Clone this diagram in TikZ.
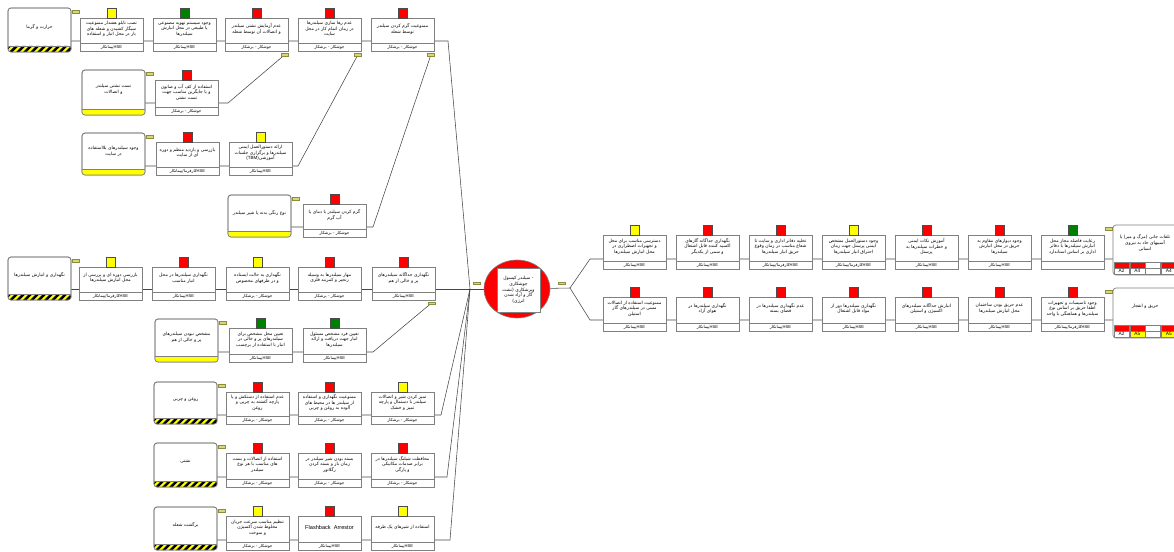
\documentclass[tikz,border=0pt]{standalone}
\usepackage{fontspec}
\setmainfont{Liberation Sans}
\newfontfamily\fafont[Script=Arabic]{DejaVu Sans}
\newfontfamily\lafont{Liberation Sans}
\TeXXeTstate=1
\usetikzlibrary{shapes.geometric,backgrounds,calc}

\definecolor{boxgray}{RGB}{128,128,128}
\definecolor{linegray}{RGB}{70,70,70}
\definecolor{tagfill}{RGB}{215,215,120}
\definecolor{tagline}{RGB}{140,140,60}
\definecolor{bred}{RGB}{255,0,0}
\definecolor{byellow}{RGB}{255,255,0}
\definecolor{bgreen}{RGB}{0,128,0}

\newcommand\fa[1]{\beginR #1\endR}
\newcommand\hse{\beginL{\lafont HSE}\endL}
\newcommand\fhse{\fa{\hse{}پیمانکار}}
\newcommand\fkhse{\fa{\hse{}کارفرما/پیمانکار}}
\newcommand\fjb{\fa{جوشکار - برشکار}}

\tikzset{
  bbox/.style={draw=boxgray, fill=white, line width=0.6pt, minimum width=63pt, inner sep=0pt, outer sep=0pt},
  bfoot/.style={draw=boxgray, line width=0.6pt, minimum width=63pt, minimum height=8pt, inner sep=0pt, outer sep=0pt,
    font=\fafont\fontsize{4.1}{4.5}\selectfont},
  btext/.style={align=center, inner sep=0pt, font=\fafont\fontsize{4.5}{5.6}\selectfont},
  ind/.style={draw=black!70, line width=0.3pt, minimum width=9pt, minimum height=10pt, inner sep=0pt, outer sep=0pt},
  tag/.style={draw=tagline, fill=tagfill, line width=0.4pt, minimum width=7pt, minimum height=2.6pt, inner sep=0pt},
  conn/.style={draw=linegray, line width=0.55pt},
  tbox/.style={draw=boxgray, fill=white, line width=0.7pt, rounded corners=3pt, minimum width=63pt, inner sep=0pt, outer sep=0pt},
  ttext/.style={align=center, inner sep=0pt, font=\fafont\fontsize{4.5}{5.8}\selectfont},
  cell/.style={draw=boxgray, line width=0.3pt, minimum width=15pt, minimum height=6pt, inner sep=0pt,
    font=\lafont\fontsize{4.8}{5}\selectfont},
}

% barrier: name, x left, y top, y bottom, colour, text, footer
\newcommand\barrier[7]{%
  \pgfmathsetmacro\bh{#4-#3}%
  \node[bbox, minimum height=\bh pt] (#1) at ({#2+31.5},{(#3+#4)/2}) {};
  \node[bfoot, anchor=south] (#1f) at (#1.south) {#7};
  \node[btext] (#1t) at ($(#1.north)!0.44!(#1f.north)$) {#6};
  \node[ind, fill=#5, anchor=south] (#1i) at (#1.north) {};
}

% threat: name, x left, y top, y bottom, number of stripes, text
\newcommand\threat[6]{%
  \pgfmathsetmacro\th{#4-#3}%
  \node[tbox, minimum height=\th pt] (#1) at ({#2+31.5},{(#3+#4)/2}) {};
  \begin{scope}
    \clip[rounded corners=2.5pt] ([yshift=6pt]#1.south west) rectangle (#1.south east);
    \fill[byellow] ([yshift=6pt]#1.south west) rectangle (#1.south east);
    \ifnum#5>0
      \foreach \k in {0,...,#5}
        \fill[black] ([xshift={(7*\k-6)*1pt}]#1.south west) -- ++(3.5pt,0pt) -- ++(6pt,6pt) -- ++(-3.5pt,0pt) -- cycle;
    \fi
  \end{scope}
  \draw[boxgray, line width=0.5pt] ([yshift=6pt]#1.south west) -- ([yshift=6pt]#1.south east);
  \draw[boxgray, line width=0.7pt, rounded corners=3pt] (#1.north west) rectangle (#1.south east);
  \node[ttext] (#1t) at ($(#1.north)!0.43!(#1.south)$) {#6};
  \node[tag, anchor=north west] (#1g) at ([xshift=1pt,yshift=-2pt]#1.north east) {};
}

% consequence: name, y top, y bottom, text
\newcommand\conseq[4]{%
  \pgfmathsetmacro\th{#3-#2}%
  \node[tbox, minimum width=64pt, minimum height=\th pt] (#1) at (1145,{(#2+#3)/2}) {};
  \node[ttext] (#1t) at ($(#1.north)!0.36!(#1.south)$) {#4};
  \node[tag, anchor=north east] (#1g) at ([xshift=-1pt,yshift=-2pt]#1.north west) {};
}

\begin{document}
\begin{tikzpicture}[x=1pt,y=-1pt]
\useasboundingbox (0,0) rectangle (1174,551);

% threats
\threat{t1}{8}{8}{52}{9}{\fa{حرارت و گرما}}
\threat{t2}{82}{70}{115}{0}{\fa{تست نشتی سیلندر}\\\fa{و اتصالات}}
\threat{t3}{82}{133}{175}{0}{\fa{وجود سیلندرهای بلااستفاده}\\\fa{در سایت}}
\threat{t4}{228}{195}{237}{0}{\fa{نوع رنگی بدنه یا شیر سیلندر}}
\threat{t5}{8}{257}{300}{9}{\fa{نگهداری و انبارش سیلندرها}}
\threat{t6}{155}{319}{362}{0}{\fa{مشخص نبودن سیلندرهای}\\\fa{پر و خالی از هم}}
\threat{t7}{154}{382}{424}{9}{\fa{روغن و چربی}}
\threat{t8}{154}{443}{487}{9}{\fa{نشتی}}
\threat{t9}{154}{507}{550}{9}{\fa{برگشت شعله}}

% barriers, left side
\barrier{b11}{80}{18}{51}{byellow}{\fa{نصب تابلو هشدار ممنوعیت}\\\fa{سیگار کشیدن و شعله های}\\\fa{باز در محل انبار و استفاده}}{\fhse}
\barrier{b12}{153}{18}{51}{bgreen}{\fa{وجود سیستم تهویه مصنوعی}\\\fa{یا طبیعی در محل انبارش}\\\fa{سیلندرها}}{\fhse}
\barrier{b13}{225}{18}{51}{bred}{\fa{عدم آزمایش نشتی سیلندر}\\\fa{و اتصالات آن توسط شعله}}{\fjb}
\barrier{b14}{298}{18}{51}{bred}{\fa{عدم رها سازی سیلندرها}\\\fa{در زمان اتمام کار در محل}\\\fa{سایت}}{\fjb}
\barrier{b15}{371}{18}{51}{bred}{\fa{ممنوعیت گرم کردن سیلندر}\\\fa{توسط شعله}}{\fjb}

\barrier{b21}{155}{80}{115}{bred}{\fa{استفاده از کف آب و صابون}\\\fa{و یا جایگزین مناسب جهت}\\\fa{تست نشتی}}{\fjb}

\barrier{b31}{156}{142}{175}{bred}{\fa{بازرسی و بازدید منظم و دوره}\\\fa{ای از سایت}}{\fkhse}
\barrier{b32}{229}{142}{175}{byellow}{\fa{ارائه دستورالعمل ایمنی}\\\fa{سیلندرها و برگزاری جلسات}\\\fa{آموزشی\beginL{\lafont(TBM)}\endL}}{\fhse}

\barrier{b41}{303}{204}{237}{bred}{\fa{گرم کردن سیلندر با دمای یا}\\\fa{آب گرم}}{\fjb}

\barrier{b51}{79}{267}{300}{byellow}{\fa{بازرسی دوره ای و بررسی از}\\\fa{محل انبارش سیلندرها}}{\fkhse}
\barrier{b52}{152}{267}{300}{bred}{\fa{نگهداری سیلندرها در محل}\\\fa{انبار مناسب}}{\fhse}
\barrier{b53}{226}{267}{300}{byellow}{\fa{نگهداری به حالت ایستاده}\\\fa{و در ظرفهای مخصوص}}{\fjb}
\barrier{b54}{298}{267}{300}{bred}{\fa{مهار سیلندرها به وسیله}\\\fa{زنجیر و کمربند فلزی}}{\fjb}
\barrier{b55}{372}{267}{300}{bred}{\fa{نگهداری جداگانه سیلندرهای}\\\fa{پر و خالی از هم}}{\fhse}

\barrier{b61}{229}{328}{362}{bgreen}{\fa{تعیین محل مشخص برای}\\\fa{سیلندرهای پر و خالی در}\\\fa{انبار با استفاده از برچسب}}{\fhse}
\barrier{b62}{303}{328}{362}{bgreen}{\fa{تعیین فرد مشخص مسئول}\\\fa{انبار جهت دریافت و ارائه}\\\fa{سیلندرها}}{\fhse}

\barrier{b71}{226}{392}{424}{bred}{\fa{عدم استفاده از دستکش و یا}\\\fa{پارچه آغشته به چربی و}\\\fa{روغن}}{\fjb}
\barrier{b72}{298}{392}{424}{bred}{\fa{ممنوعیت نگهداری و استفاده}\\\fa{از سیلندر ها در محیط های}\\\fa{آلوده به روغن و چربی}}{\fjb}
\barrier{b73}{371}{392}{424}{byellow}{\fa{تمیز کردن شیر و اتصالات}\\\fa{سیلندر با دستمال و پارچه}\\\fa{تمیز و خشک}}{\fjb}

\barrier{b81}{226}{453}{487}{bred}{\fa{استفاده از اتصالات و بست}\\\fa{های مناسب با هر نوع}\\\fa{سیلندر}}{\fjb}
\barrier{b82}{298}{453}{487}{bred}{\fa{بسته بودن شیر سیلندر در}\\\fa{زمان باز و بسته کردن}\\\fa{رگلاتور}}{\fjb}
\barrier{b83}{371}{453}{487}{bred}{\fa{محافظت شیلنگ سیلندرها در}\\\fa{برابر صدمات مکانیکی}\\\fa{و پارگی}}{\fjb}

\barrier{b91}{226}{516}{550}{byellow}{\fa{تنظیم مناسب سرعت جریان}\\\fa{مخلوط شدن اکسیژن}\\\fa{و سوخت}}{\fjb}
\barrier{b92}{298}{516}{550}{bred}{{\lafont\fontsize{5.6}{6}\selectfont Flashback\ \ Arrestor}}{\fhse}
\barrier{b93}{371}{516}{550}{byellow}{\fa{استفاده از شیرهای یک طرفه}}{\fhse}

% junction tags
\node[tag] (g13) at (285,54.5) {};
\node[tag] (g14) at (358,54.5) {};
\node[tag] (g15) at (431,54.5) {};
\node[tag] (g55) at (431.5,303) {};

% top event
\node[ellipse, draw=boxgray, fill=bred, line width=0.6pt, minimum width=66pt, minimum height=58pt] (top) at (517,289) {};
\node[draw=boxgray, fill=white, line width=0.5pt, minimum width=43pt, minimum height=44pt, inner sep=0pt, align=center,
  font=\fafont\fontsize{4.5}{5.6}\selectfont] (topt) at (518.5,290)
  {\fa{- سیلندر کپسول}\\\fa{جوشکاری}\\\fa{وبرشکاری (نشت}\\\fa{گاز و آزاد شدن}\\\fa{انرژی)}};
\node[tag] (topl) at (477,283) {};
\node[tag] (topr) at (561.5,283) {};

% barriers, right side
\barrier{c11}{603}{235}{269}{byellow}{\fa{دسترسی مناسب برای محل}\\\fa{و تجهیزات اضطراری در}\\\fa{محل انبارش سیلندرها}}{\fhse}
\barrier{c12}{676}{235}{269}{bred}{\fa{نگهداری جداگانه گازهای}\\\fa{اکسید کننده قابل اشتعال}\\\fa{و سمی از یکدیگر}}{\fhse}
\barrier{c13}{749}{235}{269}{bred}{\fa{تخلیه دفاتر اداری و سایت تا}\\\fa{شعاع مناسب در زمان وقوع}\\\fa{حریق انبار سیلندرها}}{\fkhse}
\barrier{c14}{822}{235}{269}{byellow}{\fa{وجود دستورالعمل مشخص}\\\fa{ایمنی پرسنل جهت زمان}\\\fa{احتراق انبار سیلندرها}}{\fkhse}
\barrier{c15}{895}{235}{269}{bred}{\fa{آموزش نکات ایمنی}\\\fa{و خطرات سیلندرها به}\\\fa{پرسنل}}{\fhse}
\barrier{c16}{968}{235}{269}{bred}{\fa{وجود دیوارهای مقاوم به}\\\fa{حریق در محل انبارش}\\\fa{سیلندرها}}{\fhse}
\barrier{c17}{1041}{235}{269}{bgreen}{\fa{رعایت فاصله مجاز محل}\\\fa{انبارش سیلندرها با دفاتر}\\\fa{اداری بر اساس استاندارد}}{}

\barrier{c21}{603}{297}{331}{bred}{\fa{ممنوعیت استفاده از اتصالات}\\\fa{مسی در سیلندرهای گاز}\\\fa{استیلن}}{\fhse}
\barrier{c22}{676}{297}{331}{bred}{\fa{نگهداری سیلندرها در}\\\fa{هوای آزاد}}{\fhse}
\barrier{c23}{749}{297}{331}{bred}{\fa{عدم نگهداری سیلندرها در}\\\fa{فضای بسته}}{\fhse}
\barrier{c24}{822}{297}{331}{bred}{\fa{نگهداری سیلندرها دور از}\\\fa{مواد قابل اشتعال}}{\fhse}
\barrier{c25}{895}{297}{331}{bred}{\fa{انبارش جداگانه سیلندرهای}\\\fa{اکسیژن و استیلن}}{\fhse}
\barrier{c26}{968}{297}{331}{bred}{\fa{عدم حریق بودن ساختمان}\\\fa{محل انبارش سیلندرها}}{\fhse}
\barrier{c27}{1041}{297}{331}{bred}{\fa{وجود تاسیسات و تجهیزات}\\\fa{اطفا حریق بر اساس نوع}\\\fa{سیلندرها و هماهنگی با واحد}}{\fkhse}

% consequences
\conseq{k1}{225}{275}{\fa{تلفات جانی (مرگ و میر) یا}\\\fa{آسیبهای حاد به نیروی}\\\fa{انسانی}}
\foreach \c/\lab/\lc [count=\i from 0] in {bred/A2/white, bred/A4/white, white//white, bred/A4/white}
{
  \node[cell, fill=\c] (k1c\i) at ({1121.5+\i*15.8},265) {};
  \node[cell, fill=\lc] (k1l\i) at ({1121.5+\i*15.8},271) {\lab};
}
\conseq{k2}{288}{338}{\fa{حریق و انفجار}}
\foreach \c/\lab/\lc [count=\i from 0] in {bred/A2/white, bred/A5/byellow, white//white, bred/A5/byellow}
{
  \node[cell, fill=\c] (k2c\i) at ({1121.5+\i*15.8},328) {};
  \node[cell, fill=\lc] (k2l\i) at ({1121.5+\i*15.8},334) {\lab};
}

% connectors
\begin{scope}[on background layer]
  \coordinate (L) at (470,289);
  \coordinate (R) at (570,288);
  \coordinate (j1) at (448,41);
  \coordinate (j2) at (228,103);
  \coordinate (j3) at (298,166);
  \coordinate (j4) at (373,227);
  \coordinate (j6) at (373,352);
  \coordinate (j7) at (441,415);
  \coordinate (j8) at (447,477);
  \coordinate (j9) at (450,540);
  \coordinate (m1) at (590,259);
  \coordinate (m2) at (590,320);
  \draw[conn] (t1.east |- j1) -- (j1) -- (L);
  \draw[conn] (t2.east |- j2) -- (j2) -- (g13);
  \draw[conn] (t3.east |- j3) -- (j3) -- (g14);
  \draw[conn] (t4.east |- j4) -- (j4) -- (g15);
  \draw[conn] (t5.east |- L) -- (L);
  \draw[conn] (t6.east |- j6) -- (j6) -- (g55);
  \draw[conn] (t7.east |- j7) -- (j7) -- (L);
  \draw[conn] (t8.east |- j8) -- (j8) -- (L);
  \draw[conn] (t9.east |- j9) -- (j9) -- (L);
  \draw[conn] (L) -- (top);
  \draw[conn] (top) -- (R);
  \draw[conn] (R) -- (m1) -- (k1.west |- m1);
  \draw[conn] (R) -- (m2) -- (k2.west |- m2);
\end{scope}
\end{tikzpicture}
\end{document}
